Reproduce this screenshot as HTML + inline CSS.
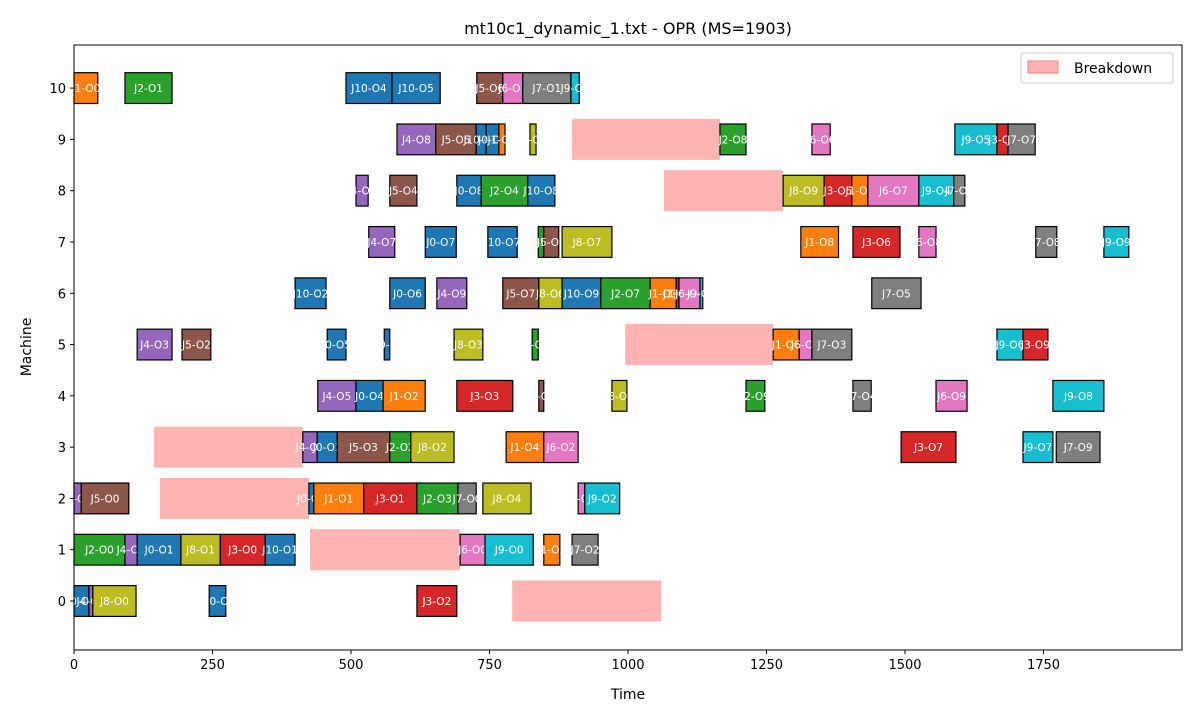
<!DOCTYPE html>
<html><head><meta charset="utf-8"><style>
body{margin:0;background:#fff;}
svg text{font-family:"DejaVu Sans","Liberation Sans",sans-serif;}
</style></head><body>
<svg id="chart" width="1200" height="720" xmlns="http://www.w3.org/2000/svg">
<text x="628" y="34" text-anchor="middle" font-size="16" fill="#000">mt10c1_dynamic_1.txt - OPR (MS=1903)</text>
<g id="plot"></g>
<text x="628" y="699" text-anchor="middle" font-size="14">Time</text>
<text transform="translate(31,347) rotate(-90)" text-anchor="middle" font-size="14">Machine</text>
</svg>
<script>
const opMachines=[10,10,10,10,10,10,10,10,
 9,9,9,9,9,9,9,9,9,9,9,
 8,8,8,8,8,8,8,8,8,8,8,
 7,7,7,7,7,7,7,7,7,7,7,
 6,6,6,6,6,6,6,6,6,6,6,6,
 5,5,5,5,5,5,5,5,5,5,5,
 4,4,4,4,4,4,4,4,4,4,
 3,3,3,3,3,3,3,3,3,3,
 2,2,2,2,2,2,2,2,2,2,
 1,1,1,1,1,1,1,1,1,1,
 0,0,0,0,0];
const opJobs=[1,2,10,10,5,6,7,9, 4,5,10,0,1,8,2,6,9,3,7, 4,5,0,2,10,8,3,1,6,9,7, 4,0,10,2,5,8,1,3,6,7,9, 10,0,4,5,8,10,2,1,3,6,9,7, 4,5,0,10,8,2,1,6,7,9,3, 4,0,1,3,5,8,2,7,6,9, 4,0,5,2,8,1,6,3,9,7, 4,5,0,1,3,2,7,8,6,9, 2,4,0,8,3,10,6,9,1,7, 0,4,8,10,3];
const opLabels=["J1-O0","J2-O1","J10-O4","J10-O5","J5-O6","J6-O1","J7-O1","J9-O3", "J4-O8","J5-O5","J10-O6","J0-O9","J1-O7","J8-O8","J2-O8","J6-O6","J9-O5","J3-O8","J7-O7", "J4-O6","J5-O4","J0-O8","J2-O4","J10-O8","J8-O9","J3-O5","J1-O9","J6-O7","J9-O4","J7-O6", "J4-O7","J0-O7","J10-O7","J2-O6","J5-O9","J8-O7","J1-O8","J3-O6","J6-O8","J7-O8","J9-O9", "J10-O2","J0-O6","J4-O9","J5-O7","J8-O6","J10-O9","J2-O7","J1-O3","J3-O4","J6-O4","J9-O4","J7-O5", "J4-O3","J5-O2","J0-O5","J10-O3","J8-O3","J2-O5","J1-O6","J6-O5","J7-O3","J9-O6","J3-O9", "J4-O5","J0-O4","J1-O2","J3-O3","J5-O8","J8-O5","J2-O9","J7-O4","J6-O9","J9-O8", "J4-O4","J0-O3","J5-O3","J2-O2","J8-O2","J1-O4","J6-O2","J3-O7","J9-O7","J7-O9", "J4-O0","J5-O0","J0-O2","J1-O1","J3-O1","J2-O3","J7-O0","J8-O4","J6-O3","J9-O2", "J2-O0","J4-O2","J0-O1","J8-O1","J3-O0","J10-O1","J6-O0","J9-O0","J1-O5","J7-O2", "J0-O0","J4-O1","J8-O0","J10-O0","J3-O2"];
const opStarts=[0,92,491,574,727,774,810,897, 583,653,726,744,767,823,1166,1332,1590,1666,1686, 509,570,691,735,819,1280,1354,1404,1433,1525,1588, 532,634,747,838,848,881,1312,1406,1525,1736,1859, 399,570,655,774,839,881,951,1040,1087,1092,1130,1440, 114,195,457,560,686,827,1262,1309,1332,1666,1713, 440,509,558,691,839,971,1213,1406,1556,1767, 413,439,475,570,608,780,848,1493,1713,1773, 0,13,424,433,523,619,693,738,910,922, 0,92,114,193,264,345,697,742,848,899, 0,27,34,244,619];
const opEnds=[43,177,574,661,774,810,897,912, 653,726,744,767,778,834,1213,1365,1666,1686,1735, 531,619,735,819,868,1354,1404,1433,1525,1588,1608, 579,690,800,848,875,971,1380,1491,1556,1774,1904, 455,634,709,839,881,951,1040,1087,1092,1130,1135,1529, 177,247,491,570,738,838,1309,1332,1404,1713,1758, 509,558,634,792,848,998,1247,1439,1612,1859, 439,475,570,608,686,848,910,1592,1767,1852, 13,99,433,523,619,693,726,825,922,985, 92,114,193,264,345,399,742,829,877,946, 27,34,112,274,691];
const bdMachines=[9,8,5,3,2,1,0];
const bdStarts=[899,1065,995,144,155,426,791];
const bdEnds=[1166,1280,1262,413,424,697,1060];
const xTicks=[0,250,500,750,1000,1250,1500,1750];
const yTicks=[0,1,2,3,4,5,6,7,8,9,10];

const NS="http://www.w3.org/2000/svg";
const colors=["#1f77b4","#ff7f0e","#2ca02c","#d62728","#9467bd","#8c564b","#e377c2","#7f7f7f","#bcbd22","#17becf"];
const X0=74,X1=1182,Y0=45,Y1=650,xmin=0,xmax=2000,ymin=-0.955,ymax=10.84;
const sx=v=>X0+(v-xmin)/(xmax-xmin)*(X1-X0);
const sy=v=>Y1-(v-ymin)/(ymax-ymin)*(Y1-Y0);
const plot=document.getElementById('plot');
function mk(tag,attrs,parent){const e=document.createElementNS(NS,tag);for(const k in attrs)e.setAttribute(k,attrs[k]);(parent||plot).appendChild(e);return e;}

for(let i=0;i<bdMachines.length;i++){
  const r=mk('rect',{x:sx(bdStarts[i]),y:sy(bdMachines[i]+0.4),width:sx(bdEnds[i])-sx(bdStarts[i]),height:sy(bdMachines[i]-0.4)-sy(bdMachines[i]+0.4),fill:'#ffb3b3'});
  
  
}
for(let i=0;i<opMachines.length;i++){
  const m=opMachines[i];
  const x=sx(opStarts[i]),w=sx(opEnds[i])-x;
  const r=mk('rect',{x:x,y:sy(m+0.3),width:w,height:sy(m-0.3)-sy(m+0.3),fill:colors[opJobs[i]%10],stroke:'#000','stroke-width':1.2});
  
  
  const t=mk('text',{x:x+w/2,y:sy(m)+4,'text-anchor':'middle','font-size':10.5,fill:'#fff'});
  t.textContent=opLabels[i];
  
  
}
const frame=mk('rect',{x:X0,y:Y0,width:X1-X0,height:Y1-Y0,fill:'none',stroke:'#000','stroke-width':1});


xTicks.forEach(v=>{
  mk('line',{x1:sx(v),x2:sx(v),y1:Y1,y2:Y1+4,stroke:'#000'});
  const t=mk('text',{x:sx(v),y:Y1+19,'text-anchor':'middle','font-size':13});
  t.textContent=v;
  
  
});
yTicks.forEach(v=>{
  mk('line',{x1:X0-4,x2:X0,y1:sy(v),y2:sy(v),stroke:'#000'});
  const t=mk('text',{x:X0-8,y:sy(v)+5,'text-anchor':'end','font-size':13});
  t.textContent=v;
  
  
});
const lg=mk('g',{});


mk('rect',{x:1021,y:53,width:152,height:30,rx:3,fill:'#fff',stroke:'#ccc'},lg);
mk('rect',{x:1028,y:61,width:30,height:12,fill:'#ffb3b3',stroke:'#ff8080'},lg);
const lt=mk('text',{x:1074,y:73,'font-size':14},lg);
lt.textContent='Breakdown';


</script>
</body></html>
